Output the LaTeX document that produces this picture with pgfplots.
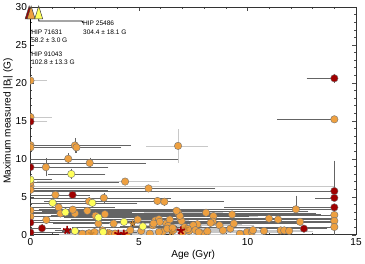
\documentclass[border=0pt]{standalone}
\usepackage{fontspec}
\setmainfont{Liberation Sans}
\usepackage{pgfplots}
\usepackage{pgfplotstable}
\pgfplotsset{compat=1.18}
\definecolor{corange}{RGB}{238,160,64}
\definecolor{cred}{RGB}{160,0,0}
\definecolor{cyel}{RGB}{255,255,90}
\definecolor{edk}{RGB}{100,100,100}
\definecolor{elt}{RGB}{200,200,200}

% x y xm xp ym yp   (dark error bars)
\pgfplotstableread{
x y xm xp ym yp
14 15.2 2.55 0 0.2 0.2
0 11.5 0 4.0 0.2 0.2
2.05 11.75 2.0 2.5 0.8 0.8
2.12 11.5 1.5 2.0 0.5 0.5
1.74 10.0 1.7 5.0 0.5 0.5
2.73 9.45 2.7 2.5 0.5 0.5
0.71 8.9 0.7 2.8 1.0 1.0
0 6.9 0 4.0 0.2 0.2
0 5.9 0 3.5 0.2 0.2
5.44 6.1 5.4 3.0 0.3 0.3
1.15 5.25 1.1 1.5 0.3 0.3
3.38 4.85 3.3 3.0 0.4 0.4
5.85 4.45 3.0 3.0 0.3 0.3
6.17 4.35 2.0 2.5 0.3 0.3
2.7 4.4 2.0 1.5 0.3 0.3
1.3 3.6 1.3 2.5 0.3 0.3
1.38 2.8 1.3 4 0.3 0.3
1.95 3.3 1.5 3 0.3 0.3
2.62 3.15 2 4 0.3 0.3
0.73 1.95 0.7 3 0.3 0.3
0 3.2 0 8 0.1 0.1
0 2.4 0 10 0.1 0.1
3.43 2.7 2 5 0.2 0.2
4.94 2.0 3 4 0.2 0.2
6.73 3.15 4 6 0.2 0.2
8.09 2.9 4 5 0.2 0.2
9.29 2.67 5 4 0.2 0.2
12.23 3.35 8 1.7 0.2 1.6
10.99 2.13 6 3 0.2 0.2
11.41 2.0 5 2.5 0.2 0.2
12.42 1.7 7 1.5 0.2 0.2
14 2.6 13 0 0.2 0.2
14 1.82 10 0 0.2 0.2
14 1.02 12 0 1.0 0.3
5.67 1.47 3 5 0.1 0.1
9.37 1.47 5 3 0.1 0.1
3.13 1.47 2 4 0.1 0.1
}\orD

% light error bars
\pgfplotstableread{
x y xm xp ym yp
0 20.3 0 0.68 0.2 0.2
0 15.5 0 0.9 0.2 0.2
0 11.8 0 4.4 0.2 0.2
6.8 11.7 1.4 1.3 2.0 2.0
4.36 7.0 4.0 1.5 0.3 0.3
0 6.4 0 13.9 0.1 0.1
2.05 2.8 2 3 0.1 0.1
3.0 2.5 2 3 0.1 0.1
3.83 1.47 2 3 0.1 0.1
5.1 0.5 2 3 0.1 0.1
5.88 1.83 2 2 0.1 0.1
6.26 1.47 2 2 0.1 0.1
6.42 2.0 2 2 0.1 0.1
6.57 0.57 1.5 1.5 0.1 0.1
6.1 0.4 1.5 1.5 0.1 0.1
2.7 0.2 1 1 0.05 0.05
2.39 0.13 1 1 0.05 0.05
3.63 0.2 1 1 0.05 0.05
3.32 0.57 1 1 0.1 0.1
4.45 0.13 1.5 1.5 0.05 0.05
8.43 2.45 2 2 0.1 0.1
7.69 1.38 2 2 0.1 0.1
8.4 1.73 2 2 0.1 0.1
8.3 1.56 1.5 1.5 0.1 0.1
8.71 1.25 2 1.5 0.1 0.1
8.87 0.57 2 1.5 0.1 0.1
9.21 0.8 2 1.5 0.1 0.1
9.65 0.13 2 1 0.05 0.05
9.98 0.36 2 1.5 0.1 0.1
10.2 0.4 1.5 1 0.1 0.1
10.25 0.6 1.5 1.5 0.1 0.1
10.76 0.5 2 1 0.1 0.1
11.53 0.57 2.5 1 0.1 0.1
11.69 0.57 2 1 0.1 0.1
11.92 0.5 2.5 1 0.1 0.1
7.94 0.13 1.5 1.5 0.05 0.05
7.5 1.25 1.5 2 0.1 0.1
6.9 2.2 1.5 2 0.1 0.1
6.96 1.8 1.5 1.5 0.1 0.1
7.1 1.0 1.5 1.5 0.1 0.1
7.3 0.5 1 1.5 0.1 0.1
6.8 2.93 1.5 2 0.1 0.1
6.88 2.49 1.5 2 0.1 0.1
5.75 1.87 1.5 1.5 0.1 0.1
5.92 2.04 1.5 1.5 0.1 0.1
5.95 1.69 1.5 1.5 0.1 0.1
6.34 1.16 1.5 1.5 0.1 0.1
5.64 1.24 1 1.5 0.1 0.1
5.92 0.36 1 1 0.1 0.1
6.3 0.8 1 1.5 0.1 0.1
6.55 0.9 1 1 0.1 0.1
7.0 0.3 1 1 0.1 0.1
7.25 0.75 1 1.5 0.1 0.1
7.6 0.6 1 1 0.1 0.1
7.75 0.35 1 1 0.05 0.05
8.15 0.45 1 1 0.1 0.1
4.6 0.6 1 1 0.1 0.1
3.9 0.15 0.5 1 0.05 0.05
5.5 0.15 1 1 0.05 0.05
2.95 0.35 0.5 1 0.05 0.05
}\orL

\pgfplotstableread{
x y xm xp ym yp
0 8.9 0 3.0 0.2 0.2
1.94 5.25 0.6 0.6 0.3 0.3
14 5.75 13.9 0 0.2 3.8
14 4.85 0.8 0 0.2 0.2
14 3.6 5.0 0 0.2 0.2
0 1.6 0 6.0 0.1 0.1
0 0.3 0 4.5 0.1 0.1
0.53 0.85 0.5 0.8 0.3 0.3
12.6 0.8 2.0 1.0 0.1 0.1
14 20.6 1.2 0 0.4 0.4
}\rdD

\pgfplotstableread{
x y xm xp ym yp
0 14.9 0 0.7 0.3 0.3
}\rdL

\pgfplotstableread{
x y xm xp ym yp
1.69 0.6 0.5 0.5 0.3 0.3
4.05 0.1 0.3 0.3 0.1 0.1
4.3 0.1 0.3 0.3 0.1 0.1
6.93 0.55 0.4 0.4 0.2 0.2
}\rdS

\pgfplotstableread{
x y xm xp ym yp
4.71 1.47 1 1 0.1 0.1
3.55 0.3 1 1 0.1 0.1
2.8 0.15 1 1 0.1 0.1
6.5 0.3 1 1 0.1 0.1
7.15 0.85 1 1 0.1 0.1
}\orS

\pgfplotstableread{
x y xm xp ym yp
0 7.25 0 0.9 0.2 0.2
1.88 8.0 1.0 1.5 0.5 0.5
1.02 4.2 1.0 2.0 0.3 0.3
2.85 4.2 1.5 2.0 0.3 0.3
1.61 2.95 1.6 3.0 0.3 0.3
3.13 2.27 1.5 2.5 0.3 0.3
2.05 0.5 0.5 1.0 0.3 0.3
3.35 0.36 0.5 1.5 0.2 0.2
4.31 1.69 1.5 2.0 0.2 0.2
5.18 1.1 1.0 1.5 0.3 0.3
}\yeD

\pgfplotstableread{
x y
-0.06 29.0
}\trR
\pgfplotstableread{
x y
0.03 29.0
}\trO
\pgfplotstableread{
x y
0.38 29.0
}\trY

\begin{document}
\begin{tikzpicture}
\begin{axis}[
  width=323pt, height=226pt, scale only axis,
  xmin=0, xmax=15, ymin=0, ymax=30,
  xtick={0,5,10,15}, ytick={0,5,...,30},
  minor x tick num=4, minor y tick num=4,
  tick align=inside, tick pos=both,
  major tick length=4pt, minor tick length=2pt,
  axis line style={black!80, line width=0.5pt},
  every tick/.style={black!70, line width=0.4pt},
  tick label style={font=\fontsize{10}{12}\selectfont},
  label style={font=\fontsize{10}{12}\selectfont},
  /pgf/number format/assume math mode=true,
  xlabel={Age (Gyr)},
  ylabel={Maximum measured |B\textsubscript{l}| (G)},
  xlabel style={yshift=2pt},
  ylabel style={yshift=-4pt},
  clip mode=individual,
  clip marker paths=true,
  ebD/.style={only marks, mark=none, error bars/.cd, x dir=both, x explicit, y dir=both, y explicit,
    error bar style={edk, line width=0.4pt}, error mark options={edk, mark size=1.6pt, line width=0.4pt}},
  ebL/.style={only marks, mark=none, error bars/.cd, x dir=both, x explicit, y dir=both, y explicit,
    error bar style={elt, line width=0.45pt}, error mark options={elt, mark size=1.6pt, line width=0.45pt}},
  circ/.style={only marks, mark=*, mark size=3.7pt, mark options={fill=#1, draw=black!55, line width=0.4pt}},
  tri/.style={clip=false, only marks, mark=triangle*, mark size=6.5pt, mark options={fill=#1, draw=black!75, xscale=0.7, yscale=1.3, line width=0.5pt}},
]
\addplot[ebL] table[x=x,y=y,x error plus=xp,x error minus=xm,y error plus=yp,y error minus=ym] {\orL};
\addplot[ebL] table[x=x,y=y,x error plus=xp,x error minus=xm,y error plus=yp,y error minus=ym] {\rdL};
\addplot[ebD] table[x=x,y=y,x error plus=xp,x error minus=xm,y error plus=yp,y error minus=ym] {\orD};
\addplot[ebD] table[x=x,y=y,x error plus=xp,x error minus=xm,y error plus=yp,y error minus=ym] {\rdD};
\addplot[ebD] table[x=x,y=y,x error plus=xp,x error minus=xm,y error plus=yp,y error minus=ym] {\yeD};
\addplot[ebD] table[x=x,y=y,x error plus=xp,x error minus=xm,y error plus=yp,y error minus=ym] {\rdS};
\addplot[ebL] table[x=x,y=y,x error plus=xp,x error minus=xm,y error plus=yp,y error minus=ym] {\orS};

\addplot[circ=corange] table[x=x,y=y] {\orL};
\addplot[circ=corange] table[x=x,y=y] {\orD};
\addplot[only marks, mark=star, mark size=3.2pt, mark options={draw=corange!85!black, line width=1.3pt}] table[x=x,y=y] {\orS};
\addplot[circ=cyel] table[x=x,y=y] {\yeD};
\addplot[circ=cred] table[x=x,y=y] {\rdD};
\addplot[circ=cred] table[x=x,y=y] {\rdL};
\addplot[only marks, mark=star, mark size=4.2pt, mark options={draw=cred, line width=1.7pt}] table[x=x,y=y] {\rdS};

\draw[black, line width=0.9pt] (axis cs:0.38,29) -- (axis cs:0.38,28.15) -- (axis cs:2.37,28.15) -- ++(0,-2pt);
\draw[black, line width=0.9pt] (axis cs:0,29) -- (axis cs:0,23.9);
\addplot[tri=cred] table[x=x,y=y] {\trR};
\addplot[tri=corange] table[x=x,y=y] {\trO};
\addplot[tri=cyel] table[x=x,y=y] {\trY};

\begin{scope}[every node/.style={anchor=west, inner sep=0pt, font=\fontsize{6.5}{7.5}\selectfont}]
\node at (axis cs:0.03,26.7) {HIP 71631};
\node at (axis cs:0.03,25.65) {58.2 ± 3.0 G};
\node at (axis cs:0.03,23.8) {HIP 91043};
\node at (axis cs:0.03,22.7) {102.8 ± 13.3 G};
\node at (axis cs:2.42,27.8) {HIP 25486};
\node at (axis cs:2.42,26.7) {304.4 ± 18.1 G};
\end{scope}
\end{axis}
\end{tikzpicture}
\end{document}
